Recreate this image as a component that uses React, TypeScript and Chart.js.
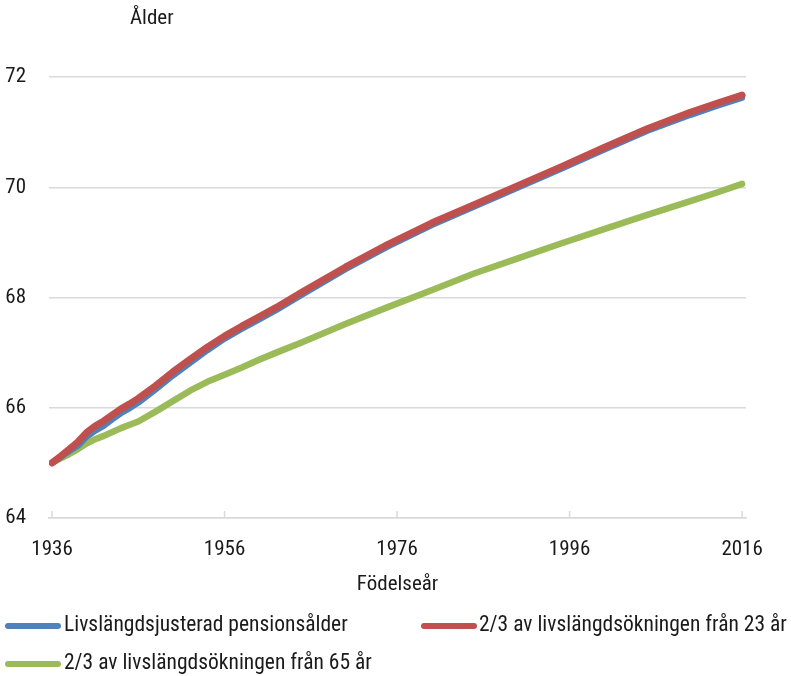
import { useEffect, useRef } from 'react';
import { Chart, registerables } from 'chart.js';

Chart.register(...registerables);

const years = [1936, 1937, 1938, 1939, 1940, 1941, 1942, 1943, 1944, 1945, 1946, 1948, 1950, 1952, 1954, 1956, 1958, 1960, 1962, 1965, 1970, 1975, 1980, 1985, 1990, 1995, 2000, 2005, 2010, 2013, 2016];
const blueValues = [65.0, 65.1, 65.21, 65.31, 65.47, 65.58, 65.67, 65.79, 65.9, 65.99, 66.09, 66.33, 66.58, 66.81, 67.04, 67.25, 67.43, 67.6, 67.77, 68.05, 68.51, 68.93, 69.31, 69.65, 69.99, 70.33, 70.68, 71.02, 71.31, 71.47, 71.62];
const redValues = [65.0, 65.12, 65.25, 65.38, 65.55, 65.67, 65.76, 65.87, 65.98, 66.07, 66.17, 66.4, 66.65, 66.88, 67.1, 67.3, 67.48, 67.65, 67.82, 68.1, 68.55, 68.97, 69.35, 69.69, 70.03, 70.37, 70.72, 71.06, 71.36, 71.52, 71.67];
const greenValues = [65.0, 65.08, 65.16, 65.25, 65.35, 65.43, 65.49, 65.56, 65.63, 65.69, 65.75, 65.93, 66.12, 66.31, 66.47, 66.6, 66.73, 66.87, 67.0, 67.19, 67.52, 67.83, 68.13, 68.44, 68.71, 68.98, 69.24, 69.5, 69.75, 69.9, 70.06];

const xTicks = [1936, 1956, 1976, 1996, 2016];
const yTicks = [64, 66, 68, 70, 72];
const seriesLabels = [
  'Livslängdsjusterad pensionsålder',
  '2/3 av livslängdsökningen från 23 år',
  '2/3 av livslängdsökningen från 65 år',
];
const seriesColors = ['#4F81BD', '#C0504D', '#9BBB59'];
const yTitle = 'Ålder';
const xTitle = 'Födelseår';

const FAMILY = "'Roboto Condensed', 'Liberation Sans Narrow', 'DejaVu Sans Condensed', sans-serif";
const SIZE = 21;
const TEXT = '#1a1a1a';
const GRID = '#D9D9D9';

const overlayPlugin = {
  id: 'overlay',
  afterDraw(chart: any) {
    const ctx = chart.ctx;
    const xs = chart.scales.x;
    const area = chart.chartArea;
    ctx.save();
    // inward tick marks on x axis
    ctx.strokeStyle = GRID;
    ctx.lineWidth = 1.5;
    xTicks.forEach((v) => {
      const px = xs.getPixelForValue(v);
      ctx.beginPath();
      ctx.moveTo(px, area.bottom);
      ctx.lineTo(px, area.bottom - 7);
      ctx.stroke();
    });
    // y title
    ctx.font = `${SIZE}px ${FAMILY}`;
    ctx.fillStyle = TEXT;
    ctx.textAlign = 'left';
    ctx.textBaseline = 'middle';
    ctx.fillText(yTitle, 130, 19);
    // legend
    ctx.font = `21.5px ${FAMILY}`;
    const items = [
      { i: 0, x: 8, tx: 64, y: 626 },
      { i: 1, x: 424, tx: 479, y: 626 },
      { i: 2, x: 8, tx: 64, y: 664 },
    ];
    items.forEach(({ i, x, tx, y }) => {
      ctx.strokeStyle = seriesColors[i];
      ctx.lineWidth = 6;
      ctx.lineCap = 'round';
      ctx.beginPath();
      ctx.moveTo(x, y);
      ctx.lineTo(x + 50, y);
      ctx.stroke();
      ctx.fillStyle = TEXT;
      ctx.fillText(seriesLabels[i], tx, y);
    });
    ctx.restore();
  },
};

export default function App() {
  const ref = useRef<HTMLCanvasElement | null>(null);
  useEffect(() => {
    document.body.style.margin = '0';
    const canvas = ref.current;
    if (!canvas) return;
    const mk = (vals: number[]) => years.map((x, i) => ({ x, y: vals[i] }));
    const chart = new Chart(canvas, {
      type: 'line',
      data: {
        datasets: [
          { label: seriesLabels[0], data: mk(blueValues), borderColor: seriesColors[0], backgroundColor: seriesColors[0], borderWidth: 6, order: 1 },
          { label: seriesLabels[1], data: mk(redValues), borderColor: seriesColors[1], backgroundColor: seriesColors[1], borderWidth: 7, order: 0 },
          { label: seriesLabels[2], data: mk(greenValues), borderColor: seriesColors[2], backgroundColor: seriesColors[2], borderWidth: 6.5, order: 2 },
        ].map((d) => ({ ...d, pointRadius: 0, tension: 0, fill: false, borderCapStyle: 'round', borderJoinStyle: 'round' })) as any,
      },
      options: {
        animation: false,
        responsive: false,
        maintainAspectRatio: false,
        devicePixelRatio: 1,
        layout: { padding: { left: 0, top: 77, right: 45, bottom: 78 } },
        plugins: { legend: { display: false }, tooltip: { enabled: false } },
        scales: {
          x: {
            type: 'linear',
            min: 1935.65,
            max: 2016.45,
            afterBuildTicks: (s: any) => { s.ticks = xTicks.map((v) => ({ value: v })); },
            afterFit: (s: any) => { s.height = 80; },
            ticks: { callback: (v: any) => String(v), font: { family: FAMILY, size: SIZE }, color: TEXT, padding: 19, maxRotation: 0, autoSkip: false },
            grid: { drawOnChartArea: false, drawTicks: false, color: GRID },
            border: { display: true, color: GRID, width: 1.5 },
            title: { display: true, text: xTitle, font: { family: FAMILY, size: SIZE }, color: TEXT, padding: { top: 0, bottom: 1 } },
          },
          y: {
            type: 'linear',
            min: 64,
            max: 72,
            afterBuildTicks: (s: any) => { s.ticks = yTicks.map((v) => ({ value: v })); },
            afterFit: (s: any) => { s.width = 49; },
            ticks: { font: { family: FAMILY, size: SIZE }, color: TEXT, padding: 23 },
            grid: { color: GRID, lineWidth: 1.5, drawTicks: false },
            border: { display: false },
          },
        },
      },
      plugins: [overlayPlugin],
    });
    return () => chart.destroy();
  }, []);
  return <canvas ref={ref} width={791} height={676} style={{ display: 'block' }} />;
}
